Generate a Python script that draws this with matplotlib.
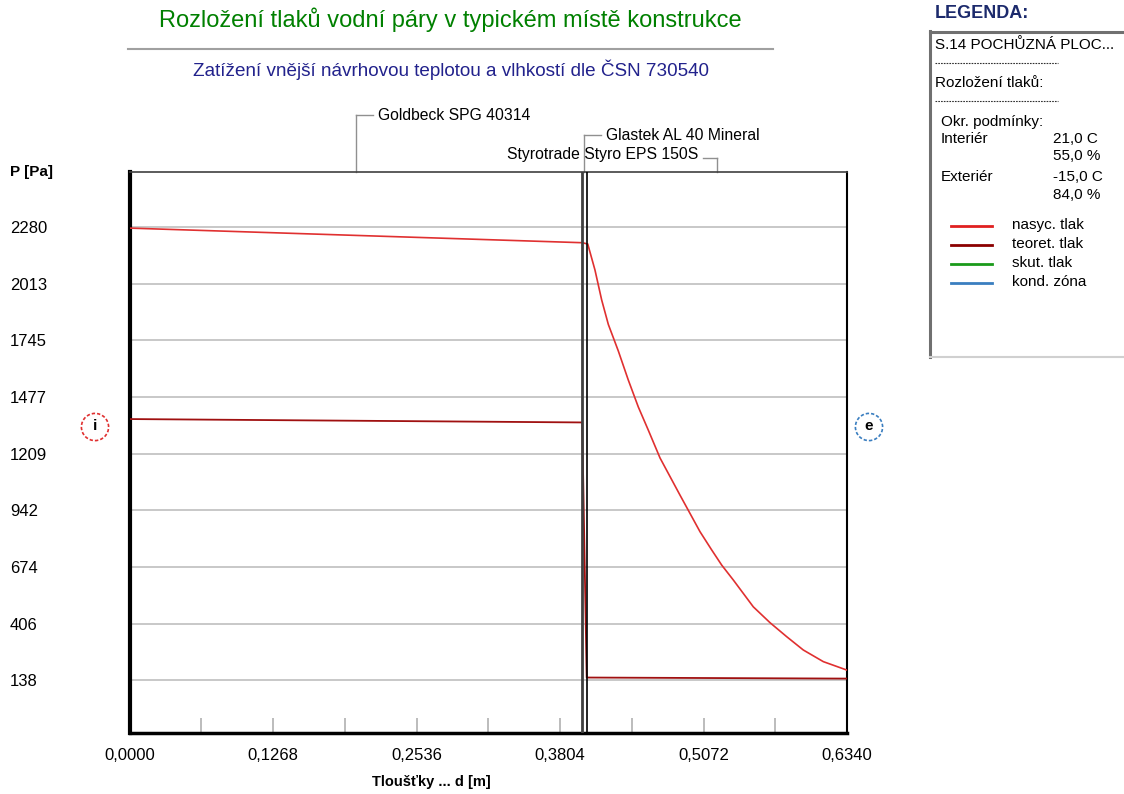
import matplotlib
matplotlib.use("Agg")
import matplotlib.pyplot as plt
from matplotlib.patches import Circle, Rectangle
from matplotlib.lines import Line2D

# data
layer_names = ["Goldbeck SPG 40314", "Glastek AL 40 Mineral", "Styrotrade Styro EPS 150S"]
layer_edges = [0.0, 0.400, 0.404, 0.634]

sat_x = [0.0, 0.400, 0.4049, 0.4113, 0.4172, 0.4231, 0.4319, 0.4407, 0.4496, 0.4584,
         0.4688, 0.4864, 0.5041, 0.5144, 0.5233, 0.5335, 0.5512, 0.5660, 0.5807,
         0.5954, 0.6131, 0.6340]
sat_p = [2275, 2206, 2200, 2077, 1936, 1820, 1695, 1558, 1430, 1321,
         1189, 1014, 841, 755, 683, 613, 486, 411, 345,
         282, 227, 187]

teo_x = [0.0, 0.400, 0.404, 0.634]
teo_p = [1373, 1357, 152, 147]

ytick_vals = [138, 406, 674, 942, 1209, 1477, 1745, 2013, 2280]
xtick_vals = [0.0, 0.0634, 0.1268, 0.1902, 0.2536, 0.3170, 0.3804, 0.4438, 0.5072, 0.5706, 0.6340]
xtick_labels = ["0,0000", "", "0,1268", "", "0,2536", "", "0,3804", "", "0,5072", "", "0,6340"]

legend_items = ["nasyc. tlak", "teoret. tlak", "skut. tlak", "kond. zóna"]
legend_colors = ["#e02020", "#8b0000", "#1a9a1a", "#3a7ec0"]

W, H = 1124, 794
plt.rcParams['font.family'] = ['Liberation Sans', 'DejaVu Sans']

fig = plt.figure(figsize=(W / 100, H / 100), dpi=100)


def fx(px):
    return px / W


def fy(py):
    return 1 - py / H


ax = fig.add_axes([fx(129.5), fy(733), (847 - 129.5) / W, (733 - 172) / H])
ax.set_xlim(0, 0.634)
ax.set_ylim(-110, 2540)

for v in ytick_vals:
    ax.axhline(v, color="#c8c8c8", lw=1.4, zorder=1)

ax.plot(sat_x, sat_p, color="#e03030", lw=1.2, zorder=3)
ax.plot(teo_x, teo_p, color="#a01010", lw=1.3, zorder=3)

ax.axvline(layer_edges[1], color="#404040", lw=2.0, zorder=4)
ax.axvline(layer_edges[2], color="#000000", lw=1.2, zorder=4)

ax.set_yticks(ytick_vals)
ax.set_yticklabels([str(v) for v in ytick_vals], ha="left", fontsize=12)
ax.tick_params(axis="y", length=0, pad=86)

ax.set_xticks(xtick_vals)
ax.set_xticklabels(xtick_labels, fontsize=12)
ax.tick_params(axis="x", direction="in", length=11, color="#b0b0b0", width=1.2, pad=11)

ax.spines["left"].set_linewidth(3)
ax.spines["bottom"].set_linewidth(2.5)
ax.spines["top"].set_linewidth(1.2)
ax.spines["top"].set_color("#404040")
ax.spines["right"].set_linewidth(1.5)

# layer labels with leader lines
tr = ax.get_xaxis_transform()
mids = [(layer_edges[i] + layer_edges[i + 1]) / 2 for i in range(3)]
lab_y = [115, 135, 158]
px2x = 0.634 / 717.5
for i, (m, ly) in enumerate(zip(mids, lab_y)):
    yfrac = (733 - ly) / (733 - 172)
    ax.plot([m, m], [1.0, yfrac], transform=tr, color="#909090", lw=1, clip_on=False)
    if i < 2:
        ax.plot([m, m + 17 * px2x], [yfrac, yfrac], transform=tr, color="#909090", lw=1, clip_on=False)
        ax.text(m + 22 * px2x, yfrac, layer_names[i], transform=tr,
                ha="left", va="center", fontsize=11.3, clip_on=False)
    else:
        ax.plot([m, m - 14 * px2x], [yfrac, yfrac], transform=tr, color="#909090", lw=1, clip_on=False)
        ax.text(m - 19 * px2x, yfrac + 0.006, layer_names[i], transform=tr,
                ha="right", va="center", fontsize=11.3, clip_on=False)

# titles
fig.text(fx(450), fy(20), "Rozložení tlaků vodní páry v typickém místě konstrukce",
         color="#008000", fontsize=17, ha="center", va="center")
fig.add_artist(Line2D([fx(128), fx(773)], [fy(49), fy(49)], color="#a0a0a0", lw=1.5))
fig.text(fx(451), fy(70), "Zatížení vnější návrhovou teplotou a vlhkostí dle ČSN 730540",
         color="#22228c", fontsize=13.6, ha="center", va="center")

fig.text(fx(10), fy(172), "P [Pa]", fontsize=11, fontweight="bold", ha="left", va="center")
fig.text(fx(431), fy(782), "Tloušťky ... d [m]", fontsize=10.5, fontweight="bold",
         ha="center", va="center")

# interior / exterior markers
for cx, col, s in [(95, "#e03030", "i"), (869, "#3a7ec0", "e")]:
    circ_ax = fig.add_axes([fx(cx - 16), fy(427 + 16), 32 / W, 32 / H])
    circ_ax.set_xlim(-1, 1)
    circ_ax.set_ylim(-1, 1)
    circ_ax.axis("off")
    circ_ax.add_patch(Circle((0, 0), 0.85, fill=False, ec=col, lw=1.2, ls=(0, (2, 1.2))))
    circ_ax.text(0, 0.05, s, ha="center", va="center", fontsize=11, fontweight="bold")

# legend panel
fig.text(fx(935), fy(13), "LEGENDA:", color="#1c2a6c", fontsize=13, fontweight="bold",
         ha="left", va="center")
fig.add_artist(Rectangle((fx(929), fy(357)), fx(1124 - 929), (357 - 31) / H,
                         transform=fig.transFigure, fc="white", ec="none"))
fig.add_artist(Line2D([fx(930), fx(930)], [fy(31), fy(357)], color="#707070", lw=2.2))
fig.add_artist(Line2D([fx(930), fx(1124)], [fy(32), fy(32)], color="#707070", lw=2.2))
fig.add_artist(Line2D([fx(930), fx(1124)], [fy(357), fy(357)], color="#d0d0d0", lw=1.5))

lfs = 11
fig.text(fx(935), fy(45), "S.14 POCHŮZNÁ PLOC...", fontsize=lfs, ha="left", va="center")
for yy in (63, 101):
    fig.add_artist(Line2D([fx(935), fx(1058)], [fy(yy), fy(yy)], color="#303030",
                          lw=0.8, ls=(0, (1.5, 1))))
fig.text(fx(935), fy(83), "Rozložení tlaků:", fontsize=lfs, ha="left", va="center")
fig.text(fx(941), fy(122), "Okr. podmínky:", fontsize=lfs, ha="left", va="center")
fig.text(fx(941), fy(139), "Interiér", fontsize=lfs, ha="left", va="center")
fig.text(fx(1053), fy(139), "21,0 C", fontsize=lfs, ha="left", va="center")
fig.text(fx(1053), fy(156), "55,0 %", fontsize=lfs, ha="left", va="center")
fig.text(fx(941), fy(177), "Exteriér", fontsize=lfs, ha="left", va="center")
fig.text(fx(1053), fy(177), "-15,0 C", fontsize=lfs, ha="left", va="center")
fig.text(fx(1053), fy(195), "84,0 %", fontsize=lfs, ha="left", va="center")

for k, (name, col) in enumerate(zip(legend_items, legend_colors)):
    yy = 226 + 19 * k
    fig.add_artist(Line2D([fx(951), fx(992)], [fy(yy), fy(yy)], color=col, lw=2))
    fig.text(fx(1012), fy(yy - 1), name, fontsize=lfs, ha="left", va="center")

fig.savefig("out.png", dpi=100)
